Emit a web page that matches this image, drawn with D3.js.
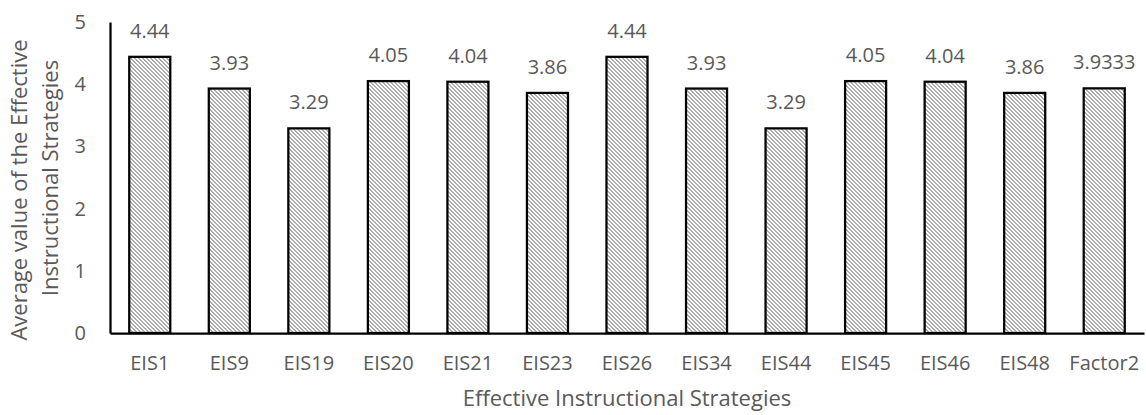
<!DOCTYPE html>
<html>
<head>
<meta charset="utf-8">
<script src="https://cdn.jsdelivr.net/npm/d3@7"></script>
<style>
  html, body { margin: 0; padding: 0; background: #fff; }
  svg { display: block; }
  text { font-family: "Open Sans", "Liberation Sans", sans-serif; fill: #595959; }
</style>
</head>
<body>
<svg id="chart" width="1146" height="415"></svg>
<script>
// Strategy codes and their average scores
const categories = ["EIS1", "EIS9", "EIS19", "EIS20", "EIS21", "EIS23", "EIS26",
                    "EIS34", "EIS44", "EIS45", "EIS46", "EIS48", "Factor2"];
const values = [4.44, 3.93, 3.29, 4.05, 4.04, 3.86, 4.44, 3.93, 3.29, 4.05, 4.04, 3.86, 3.9333];
const valueLabels = ["4.44", "3.93", "3.29", "4.05", "4.04", "3.86", "4.44",
                     "3.93", "3.29", "4.05", "4.04", "3.86", "3.9333"];
const yTicks = [0, 1, 2, 3, 4, 5];
const xTitle = "Effective Instructional Strategies";
const yTitleLines = ["Average value of the Effective", "Instructional Strategies"];

const svg = d3.select("#chart");

const plot = { left: 110, right: 1144, top: 22, bottom: 333 };

const x = d3.scaleBand()
  .domain(categories)
  .range([plot.left, plot.right])
  .paddingInner(0.484)
  .paddingOuter(0.242);

const y = d3.scaleLinear()
  .domain([0, 5])
  .range([plot.bottom, plot.top]);

// Downward-diagonal hatch: a 4x4 pixel tile with a 2px-wide stripe
const defs = svg.append("defs");
const pat = defs.append("pattern")
  .attr("id", "hatch")
  .attr("patternUnits", "userSpaceOnUse")
  .attr("width", 4)
  .attr("height", 4);
pat.append("rect").attr("width", 4).attr("height", 4).attr("fill", "#ffffff");
const hatchCells = [[0, 0], [1, 0], [1, 1], [2, 1], [2, 2], [3, 2], [3, 3], [0, 3]];
pat.selectAll("rect.px")
  .data(hatchCells)
  .join("rect")
  .attr("class", "px")
  .attr("x", d => d[0])
  .attr("y", d => d[1])
  .attr("width", 1)
  .attr("height", 1)
  .attr("shape-rendering", "crispEdges")
  .attr("fill", "#adadad");

const data = categories.map((c, i) => ({ cat: c, value: values[i], label: valueLabels[i] }));

// Bars
svg.append("g")
  .selectAll("rect")
  .data(data)
  .join("rect")
  .attr("x", d => x(d.cat))
  .attr("y", d => y(d.value))
  .attr("width", x.bandwidth())
  .attr("height", d => y(0) - y(d.value))
  .attr("fill", "url(#hatch)")
  .attr("stroke", "#000")
  .attr("stroke-width", 2.25);

// Value labels above bars
svg.append("g")
  .selectAll("text")
  .data(data)
  .join("text")
  .attr("x", d => x(d.cat) + x.bandwidth() / 2)
  .attr("y", d => y(d.value) - 19)
  .attr("text-anchor", "middle")
  .style("font-size", "20px")
  .text(d => d.label);

// Y axis: line plus labels, no tick marks
const yAxis = svg.append("g")
  .attr("transform", `translate(${plot.left},0)`)
  .call(d3.axisLeft(y).tickValues(yTicks).tickSize(0).tickPadding(24).tickFormat(d3.format("d")));
yAxis.select(".domain").attr("stroke", "#000").attr("stroke-width", 2.25);
yAxis.selectAll("text")
  .style("font-size", "20px")
  .style("font-family", "'Open Sans', sans-serif")
  .attr("fill", "#595959");

// X axis baseline and category labels
const xAxis = svg.append("g")
  .attr("transform", `translate(0,${plot.bottom})`)
  .call(d3.axisBottom(x).tickSize(0).tickPadding(23));
xAxis.select(".domain").attr("stroke", "#000").attr("stroke-width", 2.25);
xAxis.selectAll("text")
  .style("font-size", "20px")
  .style("font-family", "'Open Sans', sans-serif")
  .attr("fill", "#595959");

// Axis titles
svg.append("text")
  .attr("x", (plot.left + plot.right) / 2)
  .attr("y", 406)
  .attr("text-anchor", "middle")
  .style("font-size", "22px")
  .text(xTitle);

const yTitleCenters = [190, 178];
const yTitleBaselines = [27, 58];
yTitleLines.forEach((line, i) => {
  svg.append("text")
    .attr("transform", `translate(${yTitleBaselines[i]},${yTitleCenters[i]}) rotate(-90)`)
    .attr("text-anchor", "middle")
    .style("font-size", "22px")
    .text(line);
});
</script>
</body>
</html>
